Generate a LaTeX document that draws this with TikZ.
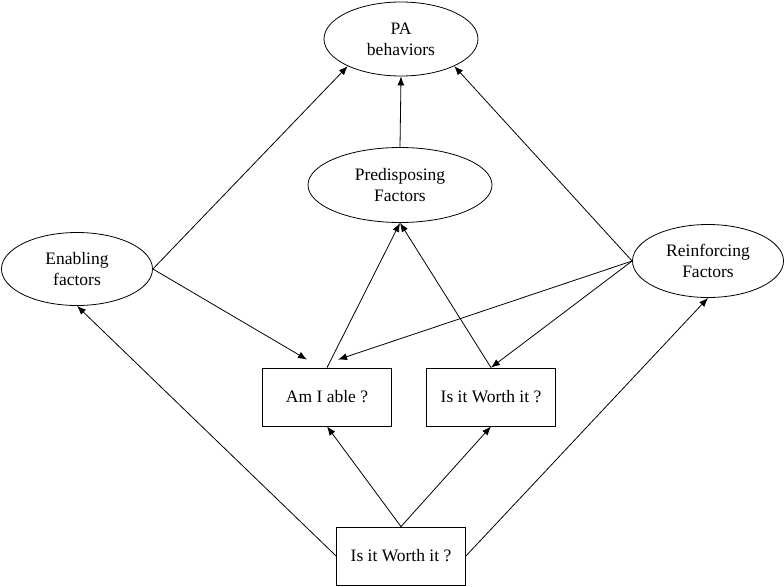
\documentclass[tikz,border=0pt]{standalone}
\usepackage{fontspec}
\setmainfont{Liberation Serif}
\usetikzlibrary{shapes.geometric, arrows.meta}

\begin{document}
\begin{tikzpicture}[> = {Latex[length = 9pt, width = 7pt]}, x = 1pt, y = -1pt, line width = 0.8pt, font = \fontsize{17.5}{21}\selectfont]

	% Definitions
	
	\tikzset{
		factor/.style = {draw, ellipse, align = center, inner sep = 0pt},
		question/.style = {draw, rectangle, minimum width = 129pt, minimum height = 58pt, inner sep = 0pt}
	}
	
	\useasboundingbox (0, 0) rectangle (784, 586);
	
	% Draw factors
	
	\node [factor, minimum width = 154pt, minimum height = 74pt] (pa) at (401, 39) {PA\\behaviors};
	\node [factor, minimum width = 184pt, minimum height = 75pt] (pred) at (400, 185) {Predisposing\\Factors};
	\node [factor, minimum width = 151pt, minimum height = 73pt] (enab) at (77, 269) {Enabling\\factors};
	\node [factor, minimum width = 151pt, minimum height = 73pt] (reinf) at (708, 261) {Reinforcing\\Factors};
	
	% Draw questions
	
	\node [question] (able) at (327, 397) {Am I able ?};
	\node [question] (worth) at (491, 397) {Is it Worth it ?};
	\node [question] (bottom) at (401, 556) {Is it Worth it ?};
	
	% Draw arrows
	
	\draw [->] (enab.east) -- (pa.207);
	\draw [->] (pred.north) -- (pa.south);
	\draw [->] (reinf.west) -- (pa.333);
	
	\draw [->] (enab.east) -- ([xshift = -20pt, yshift = 8pt] able.north);
	\draw [->] (reinf.west) -- ([xshift = 11pt, yshift = 8pt] able.north);
	\draw [->] (reinf.west) -- (worth.north);
	
	\draw [->] (able.north) -- (pred.south);
	\draw [->] (worth.north) -- (pred.south);
	
	\foreach \q in {able, worth}
		\draw [->] (bottom.north) -- (\q.south);
	\draw [->] (bottom.west) -- (enab.south);
	\draw [->] (bottom.east) -- (reinf.south);
	
\end{tikzpicture}
\end{document}
